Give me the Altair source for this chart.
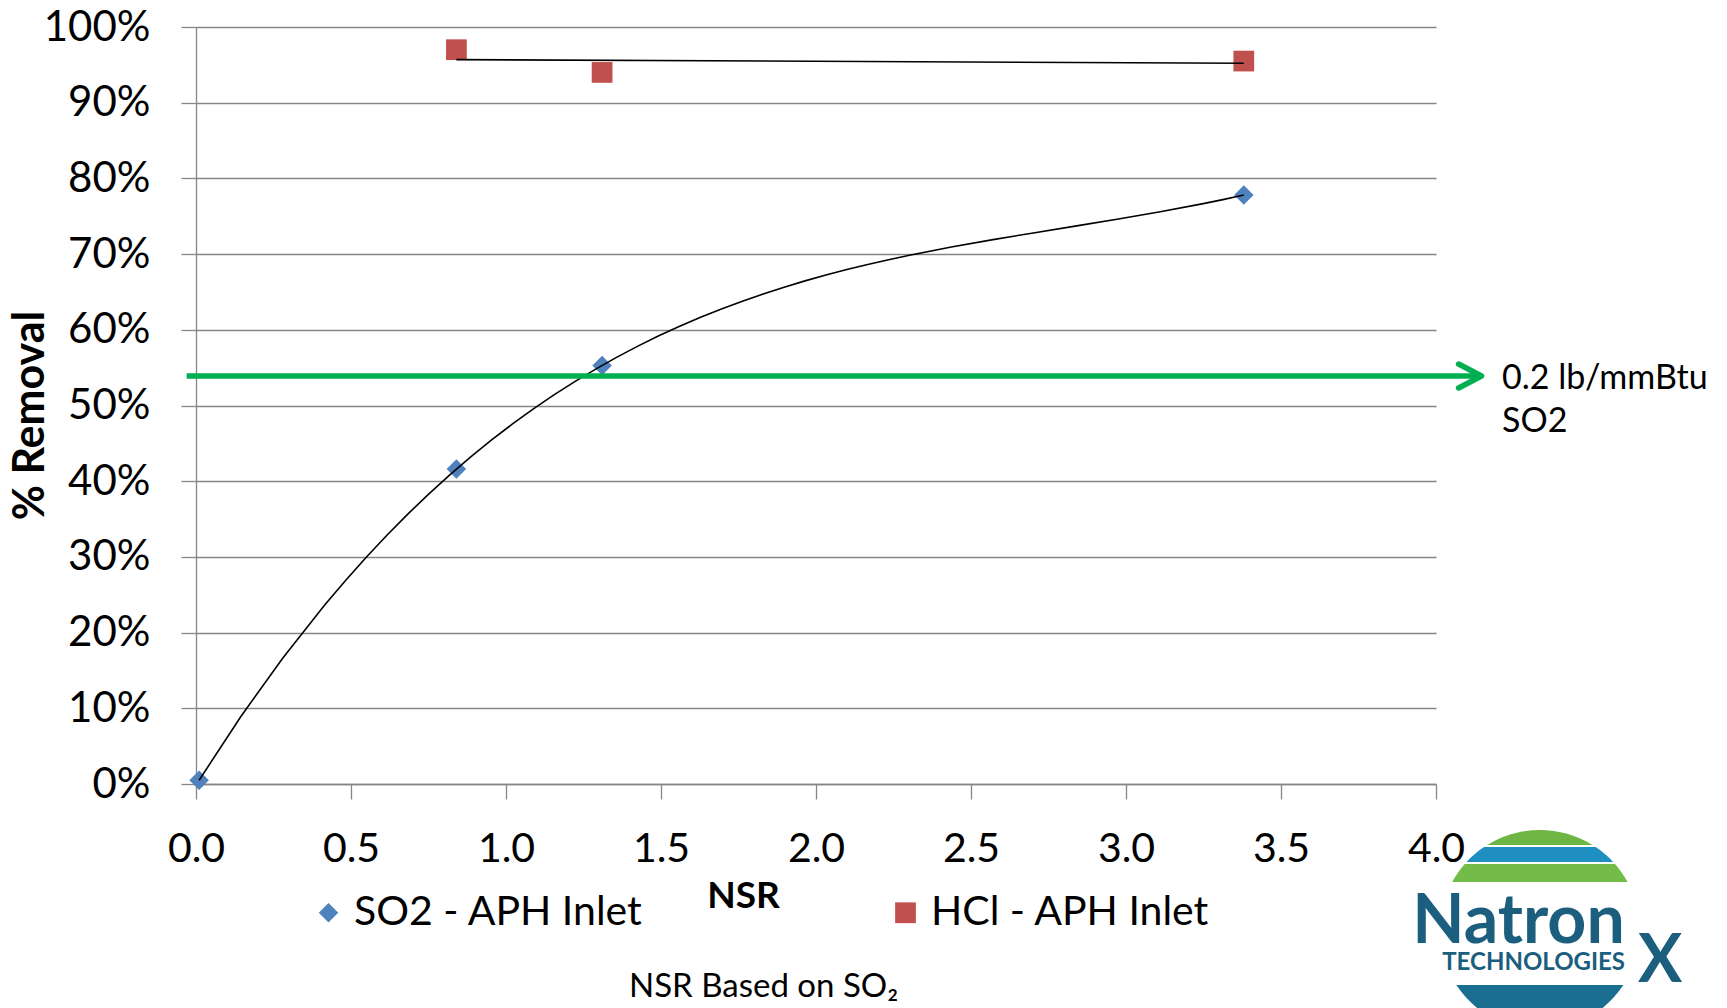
import altair as alt
import pandas as pd

# ---------------- data ----------------
so2_nsr = [0.01, 0.84, 1.31, 3.38]
so2_removal = [0.005, 0.416, 0.553, 0.778]
hcl_nsr = [0.84, 1.31, 3.38]
hcl_removal = [0.970, 0.940, 0.955]

series_names = ["SO2 - APH Inlet", "HCl - APH Inlet"]
series_colors = ["#4F81BD", "#C0504D"]
series_shapes = ["diamond", "square"]
series_sizes = [380, 430]

x_ticks = [0.0, 0.5, 1.0, 1.5, 2.0, 2.5, 3.0, 3.5, 4.0]
y_ticks = [0.0, 0.1, 0.2, 0.3, 0.4, 0.5, 0.6, 0.7, 0.8, 0.9, 1.0]

# emission limit line (0.2 lb/mmBtu SO2)
limit_y = [0.539]
limit_x_from = [-0.03]
limit_x_to = [4.13]
arrow_tip_x = [4.147]
limit_label = ["0.2 lb/mmBtu\nSO2"]
limit_label_x = [4.213]
limit_label_y = [0.522]

note_text = ["NSR Based on SO\u2082"]
note_x = [1.831]
note_y = [-0.281]

logo_words = ["Natron", "TECHNOLOGIES", "X"]
logo_x = [3.923, 4.020, 4.652]
logo_y = [-0.210, -0.2457, -0.2616]
logo_sizes = [68, 24, 66]

logo_band_colors = ["#6DB644", "#1E8FC0", "#74BC48", "#1A6E90"]
logo_center_x = [4.335]
logo_center_y = [-0.193]

FONT = "Lato"
GRID = "#868686"

# ---------------- scales / axes ----------------
xscale = alt.Scale(domain=[0, 4], nice=False, zero=False)
yscale = alt.Scale(domain=[0, 1], nice=False)

xaxis = alt.Axis(
    values=x_ticks, format=".1f", grid=False,
    domainColor=GRID, domainWidth=1.3, tickColor=GRID, tickWidth=1.3, tickSize=15,
    labelFont=FONT, labelFontSize=41, labelColor="black", labelPadding=30,
    labelFlush=False, labelOverlap=False,
    title="NSR", titleFont=FONT, titleFontSize=37, titleFontWeight="bold",
    titleColor="black", titleX=547, titleY=112, titleBaseline="middle",
    titleAlign="center", titleAnchor=None,
)
yaxis = alt.Axis(
    values=y_ticks, format=".0%", grid=True, gridColor=GRID, gridWidth=1.3,
    domainColor=GRID, domainWidth=1.3, tickColor=GRID, tickWidth=1.3, tickSize=15,
    labelFont=FONT, labelFontSize=42, labelColor="black", labelPadding=31,
    labelFlush=False, labelOverlap=False,
    title="% Removal", titleFont=FONT, titleFontSize=43, titleFontWeight="bold",
    titleColor="black", titleX=-166, titleY=388, titleBaseline="middle",
    titleAlign="center", titleAngle=-90,
)

X = alt.X("x:Q", scale=xscale, axis=xaxis)
Y = alt.Y("y:Q", scale=yscale, axis=yaxis)

legend = alt.Legend(
    title=None, orient="none", direction="horizontal", legendX=112, legendY=865,
    labelFont=FONT, labelFontSize=41, labelColor="black", labelOffset=5,
    columnPadding=241, padding=0, symbolStrokeWidth=0, labelLimit=600,
)

# ---------------- layers ----------------
pts = pd.DataFrame({
    "x": so2_nsr + hcl_nsr,
    "y": so2_removal + hcl_removal,
    "series": [series_names[0]] * len(so2_nsr) + [series_names[1]] * len(hcl_nsr),
})
points = alt.Chart(pts).mark_point(filled=True, opacity=1, strokeWidth=0).encode(
    x=X, y=Y,
    color=alt.Color("series:N", scale=alt.Scale(domain=series_names, range=series_colors), legend=legend),
    shape=alt.Shape("series:N", scale=alt.Scale(domain=series_names, range=series_shapes), legend=legend),
    size=alt.Size("series:N", scale=alt.Scale(domain=series_names, range=series_sizes), legend=legend),
)

so2_df = pd.DataFrame({"x": so2_nsr, "y": so2_removal})
hcl_df = pd.DataFrame({"x": hcl_nsr, "y": hcl_removal})

trend_so2 = alt.Chart(so2_df).transform_regression(
    "x", "y", method="poly", order=3
).mark_line(color="black", strokeWidth=1.6).encode(x=X, y=Y)

trend_hcl = alt.Chart(hcl_df).transform_regression(
    "x", "y", method="linear"
).mark_line(color="black", strokeWidth=1.6).encode(x=X, y=Y)

limit_df = pd.DataFrame({"x": limit_x_from, "x2": limit_x_to, "y": limit_y})
limit_rule = alt.Chart(limit_df).mark_rule(color="#00B050", strokeWidth=5.5).encode(
    x=X, x2="x2:Q", y=Y
)

arrow_df = pd.DataFrame({"x": arrow_tip_x, "y": limit_y})
arrow = alt.Chart(arrow_df).mark_point(
    shape="M-1,-0.52L0,0L-1,0.52", filled=False, opacity=1, color="#00B050",
    strokeWidth=5.5, strokeCap="round", strokeJoin="round", size=2116,
).encode(x=X, y=Y)

label_df = pd.DataFrame({"x": limit_label_x, "y": limit_label_y, "t": limit_label})
limit_text = alt.Chart(label_df).mark_text(
    align="left", baseline="alphabetic", font=FONT, fontSize=34, color="black",
    lineBreak="\n", lineHeight=42.7,
).encode(x=X, y=Y, text="t:N")

note_df = pd.DataFrame({"x": note_x, "y": note_y, "t": note_text})
note = alt.Chart(note_df).mark_text(
    align="center", baseline="alphabetic", font=FONT, fontSize=33, color="black",
).encode(x=X, y=Y, text="t:N")

# logo (NatronX) approximation
def band_path(v1, v2):
    w1 = max(0.0, 1 - v1 * v1) ** 0.5
    w2 = max(0.0, 1 - v2 * v2) ** 0.5
    return (f"M{-w1:.4f},{v1:.4f}L{w1:.4f},{v1:.4f}A1,1 0 0 1 {w2:.4f},{v2:.4f}"
            f"L{-w2:.4f},{v2:.4f}A1,1 0 0 1 {-w1:.4f},{v1:.4f}Z")

band_limits = [(-1.0, -0.85), (-0.83, -0.68), (-0.66, -0.48), (0.55, 0.80)]
logo_layers = []
for (v1, v2), col in zip(band_limits, logo_band_colors):
    bdf = pd.DataFrame({"x": logo_center_x, "y": logo_center_y})
    logo_layers.append(
        alt.Chart(bdf).mark_point(
            shape=band_path(v1, v2), filled=True, opacity=1, color=col,
            strokeWidth=0, size=40000,
        ).encode(x=X, y=Y)
    )

for word, lx, ly, ls in zip(logo_words, logo_x, logo_y, logo_sizes):
    wdf = pd.DataFrame({"x": [lx], "y": [ly], "t": [word]})
    logo_layers.append(
        alt.Chart(wdf).mark_text(
            align="left", baseline="alphabetic", font=FONT, fontSize=ls,
            fontWeight="bold", color="#1B5E7E",
        ).encode(x=X, y=Y, text="t:N")
    )

chart = alt.layer(
    points, trend_so2, trend_hcl, limit_rule, arrow, limit_text, note, *logo_layers
).properties(
    width=1240, height=757,
    autosize=alt.AutoSizeParams(type="none"),
    padding={"left": 196, "top": 27, "right": 291, "bottom": 224},
    background="white",
).configure_view(stroke=None)

chart.save("out.html", embed_options={"renderer": "svg", "actions": False})
